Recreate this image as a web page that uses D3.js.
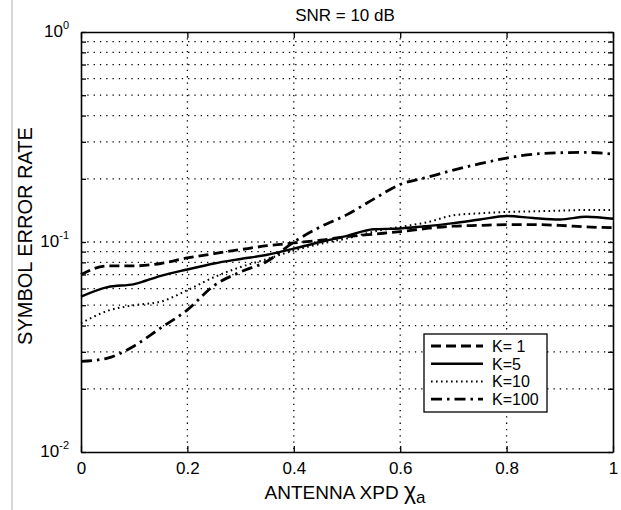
<!DOCTYPE html>
<html><head><meta charset="utf-8">
<script src="https://cdn.jsdelivr.net/npm/d3@7"></script>
<style>body{margin:0;background:#fff}svg{display:block}text{font-family:"Liberation Sans",Arial,sans-serif;fill:#000}</style>
</head><body><svg id="c" width="621" height="510"></svg>
<script>
const xs = [0,0.05,0.1,0.15,0.2,0.25,0.3,0.35,0.4,0.45,0.5,0.55,0.6,0.65,0.7,0.75,0.8,0.85,0.9,0.95,1];
const k1   = [0.070,0.077,0.077,0.079,0.084,0.088,0.092,0.096,0.099,0.102,0.106,0.109,0.112,0.116,0.119,0.120,0.121,0.121,0.120,0.118,0.117];
const k5   = [0.055,0.061,0.063,0.069,0.074,0.079,0.083,0.087,0.093,0.100,0.107,0.115,0.116,0.119,0.123,0.128,0.133,0.130,0.128,0.132,0.129];
const k10  = [0.041,0.047,0.050,0.052,0.059,0.068,0.076,0.083,0.091,0.098,0.104,0.112,0.118,0.124,0.134,0.137,0.139,0.140,0.141,0.142,0.142];
const k100 = [0.027,0.028,0.032,0.039,0.0475,0.062,0.072,0.081,0.100,0.118,0.135,0.160,0.188,0.203,0.220,0.236,0.251,0.262,0.266,0.267,0.262];
const seriesNames = ["K= 1","K=5","K=10","K=100"];
const xTicks = [0,0.2,0.4,0.6,0.8,1];
const xTickLabels = ["0","0.2","0.4","0.6","0.8","1"];
const yDecades = [0.01,0.1,1];
const yDecadeExp = ["-2","-1","0"];

const svg = d3.select("#c");
const L=81,R=613,T=32,B=452;
const x = d3.scaleLinear().domain([0,1]).range([L,R]);
const y = d3.scaleLog().domain([0.01,1]).range([B,T]);

// scan border line
svg.append("line").attr("x1",12).attr("x2",12).attr("y1",0).attr("y2",510).attr("stroke","#c8c8c8").attr("stroke-width",1.5);

// grid
const grid = svg.append("g").attr("stroke","#000").attr("stroke-width",1.3).attr("stroke-dasharray","1.3,5");
const minor = [];
[0.01,0.1].forEach(d=>{for(let m=2;m<=9;m++) minor.push(d*m);});
minor.concat([0.1]).forEach(v=>{
  grid.append("line").attr("x1",L).attr("x2",R).attr("y1",y(v)).attr("y2",y(v));
});
xTicks.slice(1,-1).forEach(v=>{
  grid.append("line").attr("x1",x(v)).attr("x2",x(v)).attr("y1",T).attr("y2",B);
});

// axes
const axB = d3.axisBottom(x).tickValues(xTicks).tickFormat((d,i)=>xTickLabels[i]).tickSizeInner(-6).tickSizeOuter(0).tickPadding(10);
const axT = d3.axisTop(x).tickValues(xTicks).tickFormat("").tickSizeInner(-6).tickSizeOuter(0);
const axL = d3.axisLeft(y).tickValues(minor.concat(yDecades)).tickFormat("").tickSizeInner(-5).tickSizeOuter(0);
const axR = d3.axisRight(y).tickValues(minor.concat(yDecades)).tickFormat("").tickSizeInner(-5).tickSizeOuter(0);
function styleAx(g){g.select(".domain").attr("stroke","#000").attr("stroke-width",1.6);g.selectAll(".tick line").attr("stroke","#000").attr("stroke-width",1.3);}
svg.append("g").attr("transform",`translate(0,${B})`).call(axB).call(styleAx)
  .selectAll("text").attr("font-size",17).attr("font-family","Liberation Sans Narrow, Liberation Sans, Arial").style("fill","#000");
svg.append("g").attr("transform",`translate(0,${T})`).call(axT).call(styleAx);
svg.append("g").attr("transform",`translate(${L},0)`).call(axL).call(styleAx);
svg.append("g").attr("transform",`translate(${R},0)`).call(axR).call(styleAx);

// y decade labels
yDecades.forEach((v,i)=>{
  const t = svg.append("text").attr("x",L-12).attr("y",y(v)+5).attr("text-anchor","end").attr("font-size",17)
    .attr("font-family","Liberation Sans Narrow, Liberation Sans, Arial");
  t.append("tspan").text("10");
  t.append("tspan").attr("dy",-8).attr("font-size",11).text(yDecadeExp[i]);
});

// curves
const line = d3.line().x((d,i)=>x(xs[i])).y(d=>y(d)).curve(d3.curveMonotoneX);
const styles = [
  {data:k1, w:2.8, dash:"10,5"},
  {data:k5, w:2.4, dash:null},
  {data:k10, w:2, dash:"1.6,3.4"},
  {data:k100, w:2.8, dash:"11,5,2.5,5"}
];
styles.forEach(s=>{
  svg.append("path").datum(s.data).attr("d",line).attr("fill","none").attr("stroke","#000")
    .attr("stroke-width",s.w).attr("stroke-dasharray",s.dash);
});

// legend
const lg = svg.append("g");
lg.append("rect").attr("x",424).attr("y",334).attr("width",123).attr("height",78).attr("fill","#fff").attr("stroke","#000").attr("stroke-width",1.3);
seriesNames.forEach((n,i)=>{
  const yy = 346 + i*17.7;
  lg.append("line").attr("x1",431).attr("x2",483).attr("y1",yy).attr("y2",yy).attr("stroke","#000")
    .attr("stroke-width",styles[i].w).attr("stroke-dasharray",styles[i].dash);
  lg.append("text").attr("x",492).attr("y",yy+6).attr("font-size",16).text(n);
});

// title & labels
svg.append("text").attr("x",345).attr("y",21).attr("text-anchor","middle").attr("font-size",17).text("SNR = 10 dB");
svg.append("text").attr("transform","translate(32,236) rotate(-90)").attr("text-anchor","middle").attr("font-size",20).text("SYMBOL ERROR RATE");
const xl = svg.append("text").attr("x",345).attr("y",499).attr("text-anchor","middle").attr("font-size",19);
xl.append("tspan").text("ANTENNA XPD ");
xl.append("tspan").attr("font-size",23).text("χ");
xl.append("tspan").attr("dy",4).attr("font-size",17).text("a");
</script></body></html>
